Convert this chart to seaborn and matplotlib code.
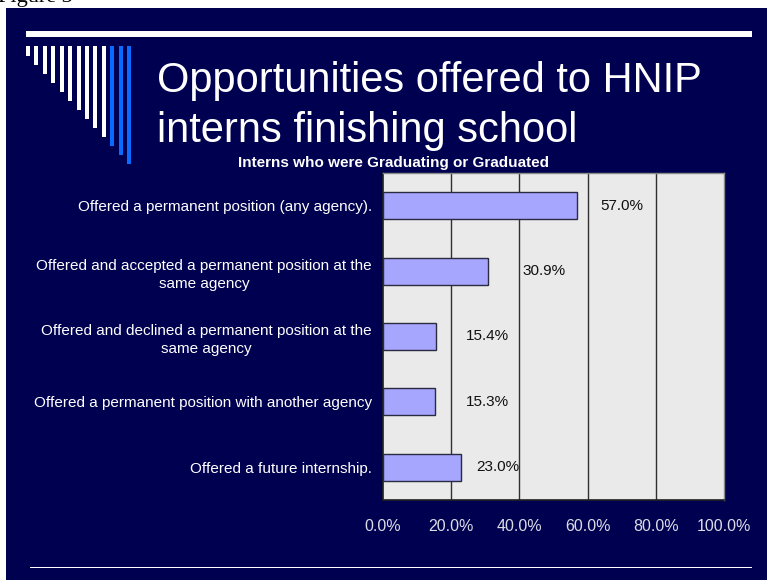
import matplotlib
matplotlib.use("Agg")
import matplotlib.pyplot as plt
import matplotlib.patches as mpatches
import seaborn as sns
import pandas as pd
import numpy as np

# ---- data -------------------------------------------------------------
categories = [
    "Offered a permanent position (any agency).",
    "Offered and accepted a permanent position at the\nsame agency",
    "Offered and declined a permanent position at the\nsame agency",
    "Offered a permanent position with another agency",
    "Offered a future internship.",
]
percentages = [57.0, 30.9, 15.4, 15.3, 23.0]
value_labels = ["57.0%", "30.9%", "15.4%", "15.3%", "23.0%"]
x_ticks = [0, 20, 40, 60, 80, 100]
x_tick_labels = ["0.0%", "20.0%", "40.0%", "60.0%", "80.0%", "100.0%"]

title_lines = ["Opportunities offered to HNIP", "interns finishing school"]
subtitle = "Interns who were Graduating or Graduated"

# horizontal gap (in % units) between bar end and its value label
label_gap = [6.6, 9.9, 8.9, 8.9, 4.3]

# ---- style ------------------------------------------------------------
sns.set_style("white")
plt.rcParams["font.family"] = ["Liberation Sans", "DejaVu Sans"]

NAVY = "#000050"
BAR = "#A6A6FF"
PLOT_BG = "#EAEAEA"
W, H = 767, 580
DPI = 100

fig = plt.figure(figsize=(W / DPI, H / DPI), dpi=DPI, facecolor="white")


def fx(px):
    return px / W


def fy(py):
    return 1 - py / H


# slide background panel
fig.patches.append(mpatches.Rectangle((fx(6), 0), 1 - fx(6), fy(8),
                                      transform=fig.transFigure,
                                      facecolor=NAVY, edgecolor="none", zorder=-5))
# caption above the slide (runs off the page edge)
fig.text(fx(-2), fy(2), "Figure 3", fontsize=16, color="black",
         family=["Liberation Serif", "DejaVu Serif"], va="baseline", ha="left",
         zorder=-4)

# top rule
fig.patches.append(mpatches.Rectangle((fx(26), fy(36.5)), fx(752) - fx(26), 5.5 / H,
                                      transform=fig.transFigure,
                                      facecolor="white", edgecolor="none", zorder=-4))
# bottom rule
fig.patches.append(mpatches.Rectangle((fx(30), fy(568)), fx(752) - fx(30), 1.2 / H,
                                      transform=fig.transFigure,
                                      facecolor="white", edgecolor="none", zorder=-4))

# decorative stripes
for i in range(13):
    left = 26 + i * 8.42
    length = 10 + i * 9.0
    col = "white" if i < 10 else "#0A6CFF"
    fig.patches.append(mpatches.Rectangle((fx(left), fy(46 + length)), 4 / W, length / H,
                                          transform=fig.transFigure,
                                          facecolor=col, edgecolor="none", zorder=-4))

# title
fig.text(fx(157), fy(92), title_lines[0], fontsize=30, color="white",
         ha="left", va="baseline")
fig.text(fx(157), fy(142), title_lines[1], fontsize=30, color="white",
         ha="left", va="baseline")
fig.text(fx(394), fy(167), subtitle, fontsize=11, color="white",
         fontweight="bold", ha="center", va="baseline")

# ---- chart ------------------------------------------------------------
ax_left, ax_right, ax_top, ax_bottom = 383, 724, 173, 500
ax = fig.add_axes([fx(ax_left), fy(ax_bottom),
                   (ax_right - ax_left) / W, (ax_bottom - ax_top) / H])
ax.set_zorder(2)
ax.set_facecolor(PLOT_BG)

df = pd.DataFrame({"category": categories, "pct": percentages})
sns.barplot(data=df, x="pct", y="category", orient="h", color=BAR,
            saturation=1, width=0.41, edgecolor="#2a2a40", linewidth=1.0,
            ax=ax, zorder=3)

ax.set_xlim(0, 100)
ax.set_ylim(len(categories) - 0.5, -0.5)
ax.set_xlabel("")
ax.set_ylabel("")

# vertical gridlines
for v in x_ticks[1:-1]:
    ax.axvline(v, color="#303030", lw=1.0, zorder=1)

for sp in ["left", "bottom"]:
    ax.spines[sp].set_color("#202020")
    ax.spines[sp].set_linewidth(1.2)
for sp in ["top", "right"]:
    ax.spines[sp].set_color("#8a8a8a")
    ax.spines[sp].set_linewidth(1.0)

ax.set_xticks(x_ticks)
ax.set_xticklabels(x_tick_labels)
ax.tick_params(axis="x", direction="out", length=3, width=1, color="#202020",
               labelsize=11.5, labelcolor="#DCDCE6", pad=11)

ax.set_yticks(range(len(categories)))
ax.set_yticklabels(categories, multialignment="center", linespacing=1.4)
ax.tick_params(axis="y", which="major", length=0, labelsize=11,
               labelcolor="white", pad=8)
ax.set_yticks(np.arange(0.5, len(categories) - 0.5, 1), minor=True)
ax.tick_params(axis="y", which="minor", direction="out", length=3, width=1,
               color="#202020")

# value labels
for i, (v, lab) in enumerate(zip(percentages, value_labels)):
    ax.text(v + label_gap[i], i, lab, fontsize=11, color="#111111",
            ha="left", va="center", zorder=4)

fig.savefig("out.png", dpi=DPI, facecolor="white")
